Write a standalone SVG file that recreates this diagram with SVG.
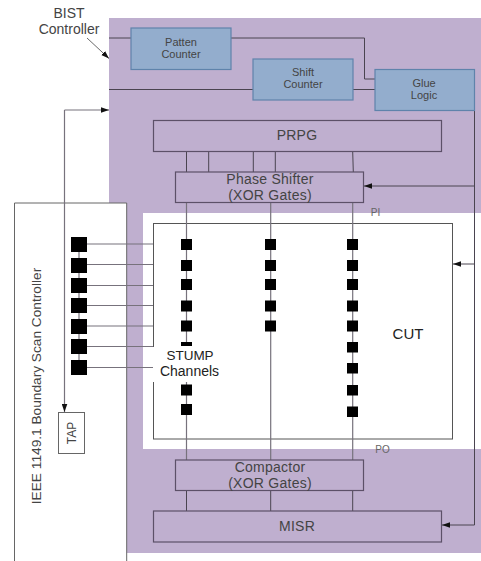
<svg xmlns="http://www.w3.org/2000/svg" width="481" height="561" viewBox="0 0 481 561">
<defs>
<marker id="arr" markerUnits="userSpaceOnUse" markerWidth="8" markerHeight="6" refX="8" refY="3" orient="auto"><path d="M0,0.200L8,3L0,5.800z" fill="#111"/></marker>
</defs>
<style>
text{font-family:"Liberation Sans",Arial,sans-serif;fill:#444;text-anchor:middle}
.blue{fill:#93adcd;stroke:#5f83ab;stroke-width:1.2}
.pur{fill:#bfafcf;stroke:#5c5068;stroke-width:1.2}
.ln{fill:none;stroke:#4a4450;stroke-width:1}
.gr{fill:none;stroke:#77727c;stroke-width:1.2}
.sq{fill:#000}
.s9{font-size:11px}
.s13{font-size:14px;letter-spacing:.25px}
.sm{font-size:10px;fill:#666}
.lab{font-size:14px}
</style>
<rect width="481" height="561" fill="#fff"/>
<rect x="109" y="18" width="372" height="535" fill="#bfafcf"/>
<rect x="143" y="213" width="338" height="236" fill="#fff"/>
<g id="ieee"><path d="M14.5,561V203H126.700V561" fill="#fff" stroke="#666" stroke-width="1"/>
<text transform="translate(40.500,386) rotate(-90)" style="font-size:13.700px">IEEE 1149.1 Boundary Scan Controller</text></g>
<g id="cut"><rect x="153.500" y="223.500" width="299" height="215.500" fill="#fff" stroke="#555" stroke-width="1"/><text x="408" y="339" style="font-size:15px;fill:#222">CUT</text></g>
<g id="connectors">
<path class="ln" d="M109,38H131M231,38H364.500V79H375M109,89.500H253M353,89.500H375"/>
<path class="ln" d="M474.500,110V525H442" marker-end="url(#arr)"/>
<path class="ln" d="M474.500,186H364" marker-end="url(#arr)"/>
<path class="ln" d="M474.500,264H453" marker-end="url(#arr)"/>
<path class="gr" d="M64.500,110H109" marker-end="url(#arr)"/>
<path class="gr" d="M64.500,110V412" marker-end="url(#arr)"/>
<path class="ln" d="M186.500,151.500V172M208.700,151.500V172M253.300,151.500V172M275.300,151.500V172M352.700,151.500L353.300,172"/>
<path class="gr" d="M186.500,202.500V346M186.500,382V460M270.700,202.500V460M352.700,202.500V460"/>
<path class="ln" d="M186.500,490.500V511M270.700,490.500V511M352.700,490.500V511"/>
<path class="gr" d="M79,237V374"/>
<path class="gr" d="M87,244H153M87,264.500H153M87,285.500H153M87,305.500H153M87,326H153M87,346.500H153"/>
</g>
<g id="scan-cells-left">
<rect class="sq" x="71" y="237" width="16" height="15"/><rect class="sq" x="71" y="258" width="16" height="15"/><rect class="sq" x="71" y="278" width="16" height="15"/><rect class="sq" x="71" y="298" width="16" height="15"/><rect class="sq" x="71" y="319" width="16" height="15"/><rect class="sq" x="71" y="339" width="16" height="15"/><rect class="sq" x="71" y="360" width="16" height="15"/>
</g>
<g id="channel-1">
<rect class="sq" x="181" y="239" width="11" height="11"/><rect class="sq" x="181" y="260" width="11" height="11"/><rect class="sq" x="181" y="279" width="11" height="11"/><rect class="sq" x="181" y="300.500" width="11" height="11"/><rect class="sq" x="181" y="320.500" width="11" height="11"/><rect class="sq" x="181" y="342" width="11" height="4"/><rect class="sq" x="181" y="384.500" width="11" height="11"/><rect class="sq" x="181" y="404" width="11" height="11"/>
</g>
<g id="channel-2">
<rect class="sq" x="265" y="239" width="11" height="11"/><rect class="sq" x="265" y="260" width="11" height="11"/><rect class="sq" x="265" y="279" width="11" height="11"/><rect class="sq" x="265" y="300.500" width="11" height="11"/><rect class="sq" x="265" y="320.500" width="11" height="11"/>
</g>
<g id="channel-3">
<rect class="sq" x="347" y="239" width="11" height="11"/><rect class="sq" x="347" y="260" width="11" height="11"/><rect class="sq" x="347" y="279" width="11" height="11"/><rect class="sq" x="347" y="300.500" width="11" height="11"/><rect class="sq" x="347" y="320.500" width="11" height="11"/><rect class="sq" x="347" y="342" width="11" height="10.500"/><rect class="sq" x="347" y="363" width="11" height="10.500"/><rect class="sq" x="347" y="385" width="11" height="10.500"/><rect class="sq" x="347" y="406.500" width="11" height="10.500"/>
</g>
<g id="bist-label"><text class="lab" x="69" y="18">BIST</text><text class="lab" x="69" y="34">Controller</text><path d="M87,38L109,58.500" stroke="#444" stroke-width="0.800" fill="none" marker-end="url(#arr)"/></g>
<g id="patten"><rect class="blue" x="131" y="28" width="100" height="41.500"/><text class="s9" x="181" y="45.500">Patten</text><text class="s9" x="181" y="58">Counter</text></g>
<g id="shift"><rect class="blue" x="253" y="59" width="100" height="41"/><text class="s9" x="303" y="76">Shift</text><text class="s9" x="303" y="88">Counter</text></g>
<g id="glue"><rect class="blue" x="375" y="69.500" width="99.500" height="41"/><text class="s9" x="424" y="86.500">Glue</text><text class="s9" x="424" y="99">Logic</text></g>
<g id="prpg"><rect class="pur" x="153.500" y="120.500" width="288" height="31"/><text class="s13" x="297" y="140">PRPG</text></g>
<g id="phase"><rect class="pur" x="175.500" y="172" width="188" height="30.500"/><text class="s13" x="270" y="184">Phase Shifter</text><text class="s13" x="270" y="199.500">(XOR Gates)</text></g>
<g id="compactor"><rect class="pur" x="175.500" y="460" width="188" height="30.500"/><text class="s13" x="270" y="472">Compactor</text><text class="s13" x="270" y="487.500">(XOR Gates)</text></g>
<g id="misr"><rect class="pur" x="153.500" y="511" width="288" height="31"/><text class="s13" x="297" y="531">MISR</text></g>
<g id="tap"><rect x="58.500" y="412.500" width="26" height="41" fill="#fff" stroke="#666"/><text transform="translate(75.500,433) rotate(-90)" style="font-size:12px">TAP</text></g>
<g id="stump"><rect x="152" y="347" width="70" height="35" fill="#fff"/><path class="gr" d="M87,367.500H153"/><text x="190" y="360" style="font-size:13.500px;fill:#222">STUMP</text><text x="189.500" y="376" style="font-size:14px;fill:#222">Channels</text></g>
<g id="pi"><text class="sm" x="375.500" y="216">PI</text></g>
<g id="po"><text class="sm" x="382.500" y="452.500">PO</text></g>
</svg>
